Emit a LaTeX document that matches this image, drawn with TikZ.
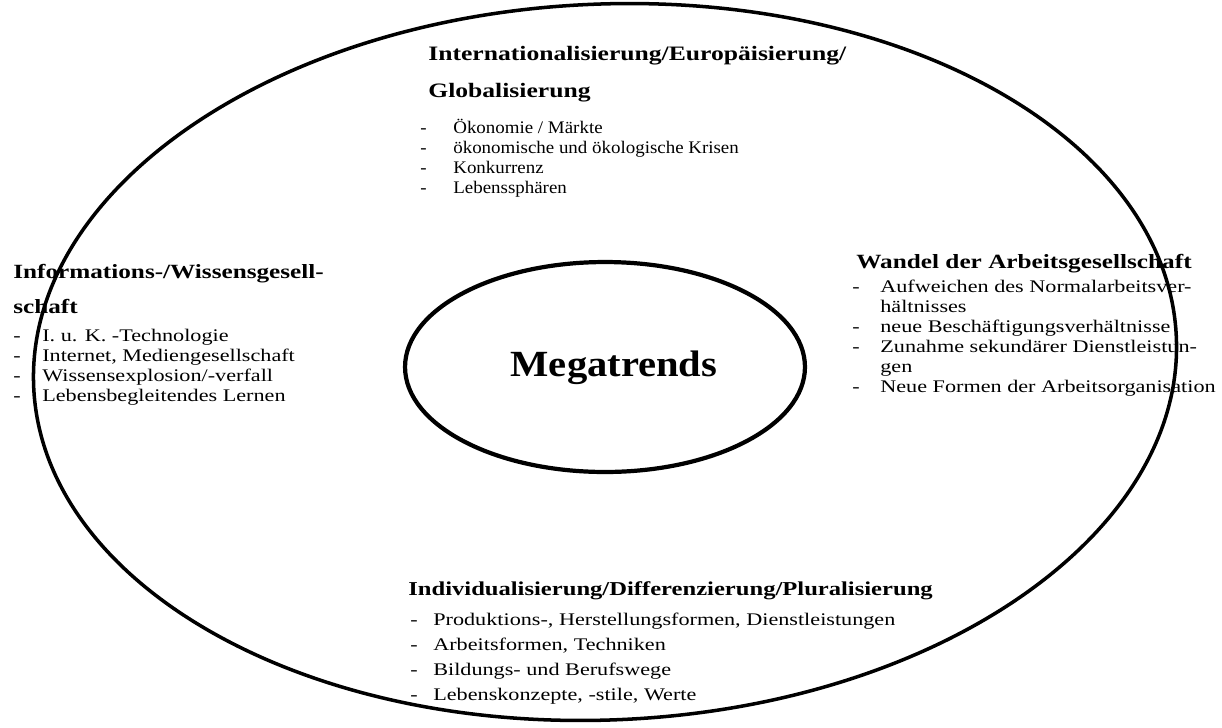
\documentclass[tikz,border=0pt]{standalone}
\usepackage{fontspec}
\setmainfont{Liberation Serif}[FakeStretch=1.25]
\newfontfamily\schmal{Liberation Serif}[FakeStretch=1.07]
\newfontfamily\megafont{Liberation Serif}[FakeStretch=1.1]
\usetikzlibrary{shapes.geometric,positioning}

\begin{document}
\begin{tikzpicture}[x=0.02cm, y=-0.02cm,
    rand/.style={ellipse, draw, inner sep=0pt},
    titel/.style={anchor=base west, inner sep=0pt, font=\fontsize{#1}{13}\selectfont\bfseries},
    punkt/.style={anchor=base west, inner sep=0pt, font=\fontsize{#1}{11}\selectfont}]

    \useasboundingbox (0,0) rectangle (1222,727);

    \node[rand, line width=2pt, minimum width=22.88cm, minimum height=14.32cm, rotate=2.5] (aussen) at (605,362) {};
    \node[rand, line width=2.4pt, minimum width=8cm, minimum height=4.2cm] (mega) at (605,367) {};
    \node[anchor=base, inner sep=0pt, font=\megafont\fontsize{21}{24}\selectfont\bfseries] (megatext) at (614,376) {Megatrends};

    \node[titel=11.66] (intl) at (428,60) {Internationalisierung/Europäisierung/};
    \node[titel=11.66] (global) at (428,97) {Globalisierung};
    \foreach \t [count=\i] in {Ökonomie / Märkte, ökonomische und ökologische Krisen, Konkurrenz, Lebenssphären}{
        \node[punkt=10.07] (intl-\i) at (420,113+\i*20) {\schmal\makebox[0.66cm][l]{-}\t};
    }

    \node[titel=11.48] (info) at (13,278) {Informations-/Wissensgesell-};
    \node[titel=11.48] (schaft) at (13,313) {schaft};
    \foreach \t [count=\i] in {I. u. K. -Technologie, {Internet, Mediengesellschaft}, Wissensexplosion/-verfall, Lebensbegleitendes Lernen}{
        \node[punkt=10.1] (info-\i) at (13,321+\i*20) {\makebox[0.58cm][l]{-}\t};
    }

    \node[titel=11.5] (arbeit) at (856,268) {Wandel der Arbeitsgesellschaft};
    \foreach \d/\t [count=\i] in {-/Aufweichen des Normalarbeitsver-, /hältnisses, -/neue Beschäftigungsverhältnisse,
        -/Zunahme sekundärer Dienstleistun-, /gen, -/Neue Formen der Arbeitsorganisation}{
        \node[punkt=10.1] (arbeit-\i) at (852,272+\i*20) {\makebox[0.56cm][l]{\d}\t};
    }

    \node[titel=11.2] (indiv) at (408,595) {Individualisierung/Differenzierung/Pluralisierung};
    \foreach \t [count=\i] in {{Produktions-, Herstellungsformen, Dienstleistungen}, {Arbeitsformen, Techniken},
        Bildungs- und Berufswege, {Lebenskonzepte, -stile, Werte}}{
        \node[punkt=10.1] (indiv-\i) at (410,600+\i*25) {\makebox[0.46cm][l]{-}\t};
    }

\end{tikzpicture}
\end{document}
